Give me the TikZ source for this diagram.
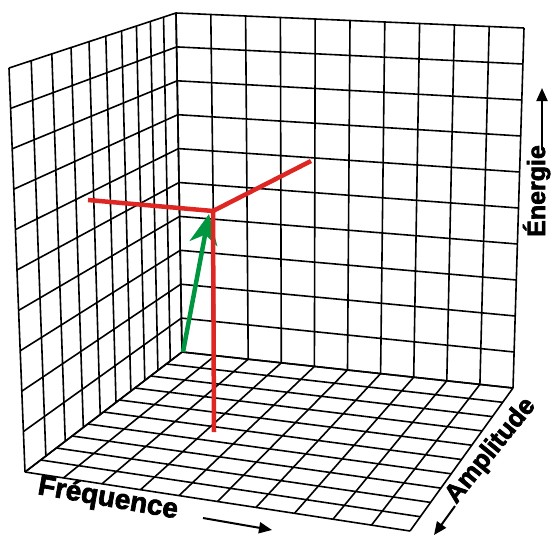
\documentclass[tikz,border=0pt]{standalone}
\usepackage{fontspec}
\usetikzlibrary{arrows.meta, calc}
\newfontfamily\axisfont{Liberation Sans Bold}[FakeBold=2.5]
\definecolor{vecRed}{RGB}{222,38,34}
\definecolor{vecGreen}{RGB}{0,150,64}

\begin{document}
\begin{tikzpicture}[
  x=1pt, y=-1pt,
  grid/.style={line width=1.6pt, black},
  vec/.style={line width=4.5pt, vecRed},
  axlabel/.style={font=\axisfont\fontsize{28}{28}\selectfont, inner sep=0pt},
  axarrow/.style={line width=2pt, -{Triangle[length=13pt, width=11pt]}},
]
  \useasboundingbox (0,0) rectangle (551,536);
  \coordinate (backTop) at (176,13);
  \coordinate (backBot) at (182,352);
  \coordinate (leftTop) at (9,68);
  \coordinate (leftBot) at (25,472);
  \coordinate (rightTop) at (524,28);
  \coordinate (rightBot) at (513,388);
  \coordinate (frontBot) at (410,531);

  \foreach \i in {0,...,10} {
    \pgfmathsetmacro\t{1.38*\i/10/(1+0.38*\i/10)}
    \draw[grid] ($(leftTop)!\t!(backTop)$) -- ($(leftBot)!\t!(backBot)$);
    \draw[grid] ($(leftTop)!{\i/10}!(leftBot)$) -- ($(backTop)!{\i/10}!(backBot)$);
    \draw[grid] ($(backTop)!{\i/10}!(rightTop)$) -- ($(backBot)!{\i/10}!(rightBot)$);
    \draw[grid] ($(backTop)!{\i/10}!(backBot)$) -- ($(rightTop)!{\i/10}!(rightBot)$);
    \draw[grid] ($(backBot)!{\i/10}!(leftBot)$) -- ($(rightBot)!{\i/10}!(frontBot)$);
    \draw[grid] ($(backBot)!{\i/10}!(rightBot)$) -- ($(leftBot)!{\i/10}!(frontBot)$);
  }

  \coordinate (origin) at (213,211);
  \coordinate (freqEnd) at (88,200);
  \coordinate (amplEnd) at (311,161);
  \coordinate (energyEnd) at (214,432);
  \coordinate (greenTail) at (183,352);
  \coordinate (greenTip) at (209,214);

  \draw[line width=4.5pt, vecGreen, -{Stealth[length=30pt, width=28pt, inset=9pt]}] (greenTail) -- (greenTip);
  \draw[vec] (origin) -- (freqEnd);
  \draw[vec] (origin) -- (amplEnd);
  \draw[vec] (origin) -- (energyEnd);

  \node[axlabel, rotate=-10] (freq) at (108,499) {Fréquence};
  \node[axlabel, rotate=90, anchor=base, font=\axisfont\fontsize{25}{25}\selectfont] (energy) at (545,191) {Énergie};
  \node[axlabel, rotate=51, font=\axisfont\fontsize{26}{26}\selectfont] (ampl) at (491,451) {Amplitude};

  \coordinate (freqArrowA) at (203,518);
  \coordinate (freqArrowB) at (272,530);
  \coordinate (energyArrowA) at (542,147);
  \coordinate (energyArrowB) at (542,88);
  \coordinate (amplArrowA) at (455,506);
  \coordinate (amplArrowB) at (434,535);
  \draw[axarrow] (freqArrowA) -- (freqArrowB);
  \draw[axarrow] (energyArrowA) -- (energyArrowB);
  \draw[axarrow] (amplArrowA) -- (amplArrowB);
\end{tikzpicture}
\end{document}
